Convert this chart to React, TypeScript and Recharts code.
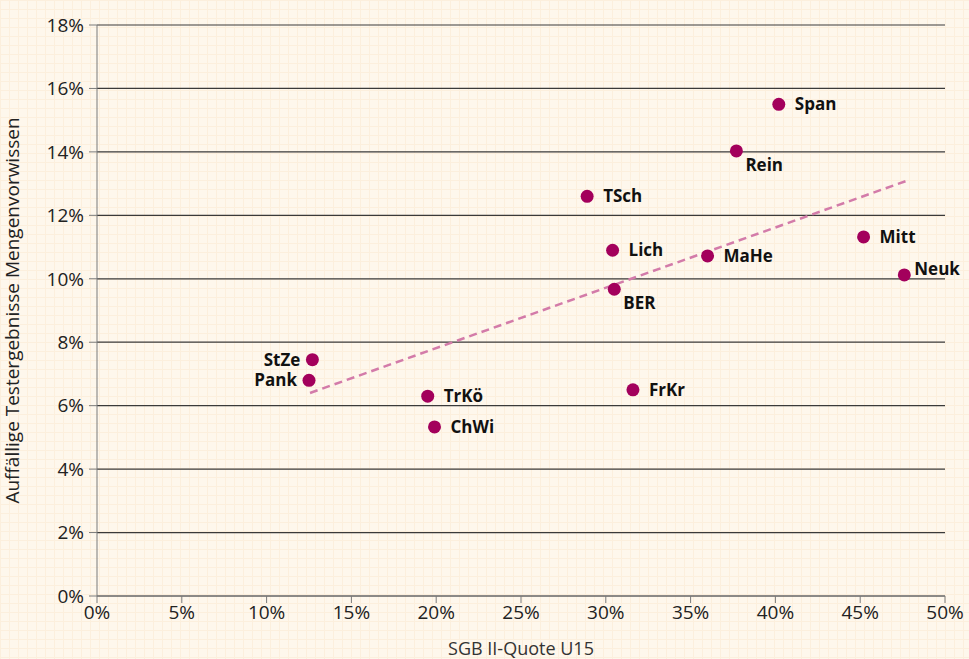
import { ScatterChart, Scatter, XAxis, YAxis, CartesianGrid, ReferenceLine, LabelList } from 'recharts';

const districts = ['StZe', 'Pank', 'TrKö', 'ChWi', 'TSch', 'Lich', 'BER', 'FrKr', 'MaHe', 'Rein', 'Span', 'Mitt', 'Neuk'];
const sgbQuote = [12.7, 12.5, 19.5, 19.9, 28.9, 30.4, 30.5, 31.6, 36.0, 37.7, 40.2, 45.2, 47.6];
const testResults = [7.45, 6.8, 6.3, 5.33, 12.6, 10.9, 9.67, 6.5, 10.72, 14.03, 15.5, 11.32, 10.12];
// label placement per district
const labelPos = ['left', 'left', 'right', 'right', 'right', 'right', 'below', 'right', 'right', 'below', 'right', 'right', 'above'];

const trendStart = { x: 12.56, y: 6.4 };
const trendEnd = { x: 47.8, y: 13.1 };

const xTicks = [0, 5, 10, 15, 20, 25, 30, 35, 40, 45, 50];
const yTicks = [0, 2, 4, 6, 8, 10, 12, 14, 16, 18];

const points = districts.map((name, i) => ({ name, x: sgbQuote[i], y: testResults[i], pos: labelPos[i] }));

const FONT = '"Open Sans", "Noto Sans", sans-serif';

const Dot = (props: any) => {
  const { cx, cy } = props;
  return <circle cx={cx} cy={cy} r={6.5} fill="#a3005c" />;
};

const PointLabel = (props: any) => {
  const { x, y, width, height, index } = props;
  const p = points[index];
  const cx = x + width / 2;
  const cy = y + height / 2;
  let tx = cx + 16;
  let ty = cy + 6;
  let anchor: 'start' | 'end' = 'start';
  if (p.pos === 'left') {
    tx = cx - 12;
    anchor = 'end';
  } else if (p.pos === 'below') {
    tx = cx + 9;
    ty = cy + 20;
  } else if (p.pos === 'above') {
    tx = cx + 10;
    ty = cy;
  }
  return (
    <text x={tx} y={ty} textAnchor={anchor} fontFamily={FONT} fontWeight={700} fontSize={17} fill="#111">
      {p.name}
    </text>
  );
};

export default function App() {
  return (
    <div
      style={{
        position: 'absolute',
        left: 0,
        top: 0,
        width: 969,
        height: 659,
        backgroundColor: '#fef7ec',
        backgroundImage:
          'linear-gradient(to right, #fcefdd 1px, transparent 1px), linear-gradient(to bottom, #fcefdd 1px, transparent 1px)',
        backgroundSize: '9px 9px',
      }}
    >
      <ScatterChart width={969} height={659} margin={{ top: 25, right: 24, left: 0, bottom: 0 }}>
        <CartesianGrid horizontal vertical={false} stroke="#3a3a3a" strokeWidth={1.2} />
        <XAxis
          type="number"
          dataKey="x"
          domain={[0, 50]}
          ticks={xTicks}
          tickFormatter={(v) => `${v}%`}
          height={63}
          stroke="#7a7a7a"
          tickSize={7}
          tickMargin={3}
          tick={{ fill: '#222', fontSize: 19, fontFamily: FONT }}
          label={{ value: 'SGB II-Quote U15', position: 'insideBottom', offset: 4, fill: '#333', fontSize: 18, fontFamily: FONT }}
        />
        <YAxis
          type="number"
          dataKey="y"
          domain={[0, 18]}
          ticks={yTicks}
          tickFormatter={(v) => `${v}%`}
          width={97}
          stroke="#7a7a7a"
          tickSize={8}
          tickMargin={5}
          tick={{ fill: '#222', fontSize: 19, fontFamily: FONT }}
          label={{
            value: 'Auffällige Testergebnisse Mengenvorwissen',
            angle: -90,
            position: 'insideLeft',
            offset: 12,
            style: { textAnchor: 'middle' },
            fill: '#222',
            fontSize: 19,
            fontFamily: FONT,
          }}
        />
        <ReferenceLine
          segment={[trendStart, trendEnd]}
          stroke="#d37ba9"
          strokeWidth={2.5}
          strokeDasharray="8 5"
          ifOverflow="visible"
        />
        <Scatter data={points} shape={<Dot />} isAnimationActive={false}>
          <LabelList dataKey="name" content={<PointLabel />} />
        </Scatter>
      </ScatterChart>
    </div>
  );
}
